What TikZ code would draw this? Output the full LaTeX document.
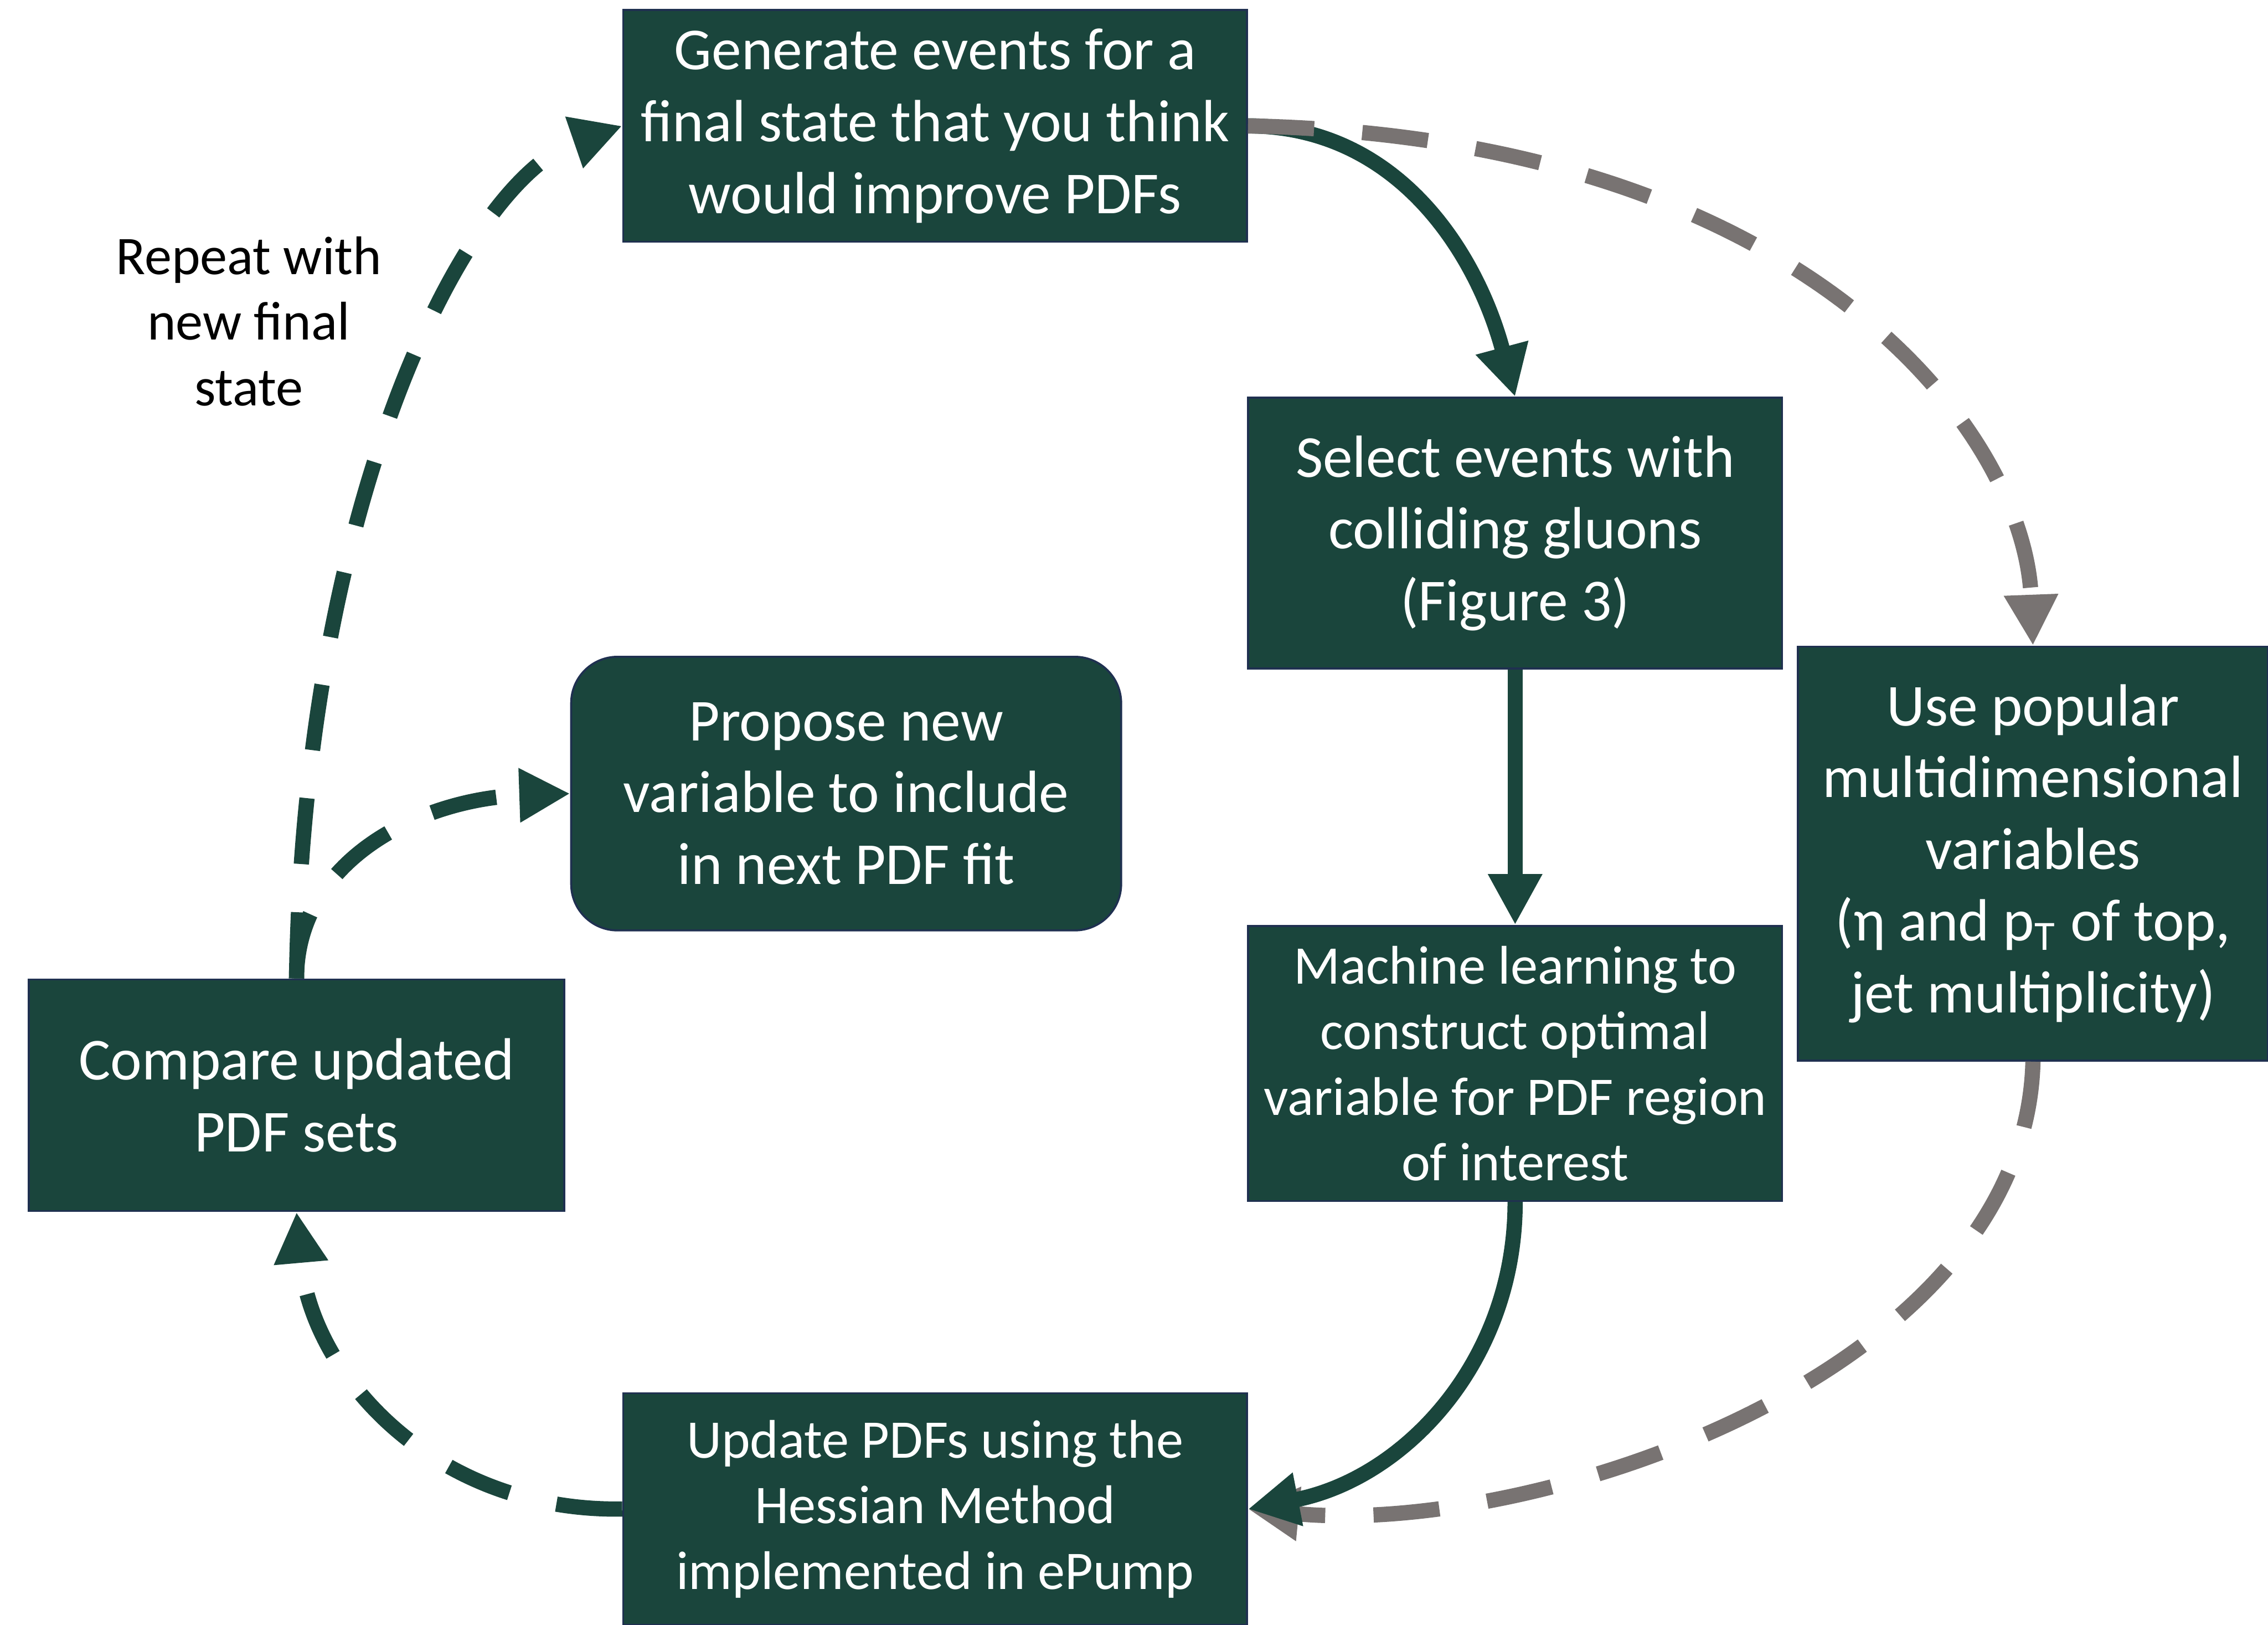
\documentclass[tikz,border=0pt]{standalone}
\usepackage{fontspec}
\setmainfont{Carlito}
\usetikzlibrary{arrows.meta,positioning}
\definecolor{pdfgreen}{HTML}{1A453C}
\definecolor{pdfgrey}{HTML}{787372}
\definecolor{boxedge}{HTML}{1F3050}

\begin{document}
\begin{tikzpicture}[x=0.01cm, y=-0.01cm,
  stepbox/.style={fill=pdfgreen, draw=boxedge, line width=0.4pt, text=white, align=center, inner sep=0pt, font=\fontsize{11.7}{14.1}\selectfont, execute at begin node={\rule{0pt}{10.5pt}}},
  smallbox/.style={stepbox, font=\fontsize{10.7}{12.9}\selectfont, execute at begin node={\rule{0pt}{9.5pt}}},
  smalltext/.style={font=\fontsize{10.7}{12.9}\selectfont},
  flow/.style={pdfgreen, line width=3pt, -{Triangle[length=10pt,width=10pt]}},
  loopback/.style={flow, dash pattern=on 13pt off 9.5pt},
  alt/.style={pdfgrey, line width=3pt, dash pattern=on 13pt off 9.5pt, -{Triangle[length=10pt,width=10pt]}}]
\useasboundingbox (0,0) rectangle (1568,1123);

% Steps of the loop
\node[stepbox, minimum width=4.31cm, minimum height=1.60cm] (gen) at (646.5,87) {Generate events for a\\final state that you think\\would improve PDFs};
\node[stepbox, minimum width=3.69cm, minimum height=1.87cm] (sel) at (1047.5,368.5) {Select events with\\colliding gluons\\(Figure 3)};
\node[smallbox, minimum width=3.69cm, minimum height=1.90cm] (ml) at (1047.5,735) {Machine learning to\\construct optimal\\variable for PDF region\\of interest};
\node[stepbox, minimum width=3.25cm, minimum height=2.86cm] (pop) at (1405.5,590) {Use popular\\multidimensional\\variables\\(η and p\textsubscript{T} of top,\\jet multiplicity)};
\node[smallbox, minimum width=4.31cm, minimum height=1.60cm] (upd) at (646.5,1043) {Update PDFs using the\\Hessian Method\\implemented in ePump};
\node[stepbox, minimum width=3.70cm, minimum height=1.60cm] (cmp) at (205,757) {Compare updated\\PDF sets};
\node[stepbox, rounded corners=0.32cm, minimum width=3.80cm, minimum height=1.89cm] (prop) at (585,548.5) {Propose new\\variable to include\\in next PDF fit};

% Loop label
\node[smalltext, align=center] (repeat) at (172,222) {Repeat with\\new final\\state};

% Main path
\draw[flow] (gen.east) to[out=0, in=105] (sel.north);
\draw[alt] (gen.east) .. controls (1250,95) and (1400,300) .. (pop.north);
\draw[flow] (sel.south) -- (ml.north);
\draw[alt] (pop.south) .. controls (1400,950) and (1060,1062) .. (upd.east);
\draw[flow] (ml.south) to[out=-90, in=11] (upd.east);

% Back to the start
\draw[loopback] (upd.west) .. controls (300,1045) and (215,950) .. (cmp.south);
\draw[loopback] (cmp.north) .. controls (210,350) and (320,125) .. (gen.west);
\draw[loopback] (cmp.north) .. controls (205,595) and (290,552) .. (prop.west);

\end{tikzpicture}
\end{document}
